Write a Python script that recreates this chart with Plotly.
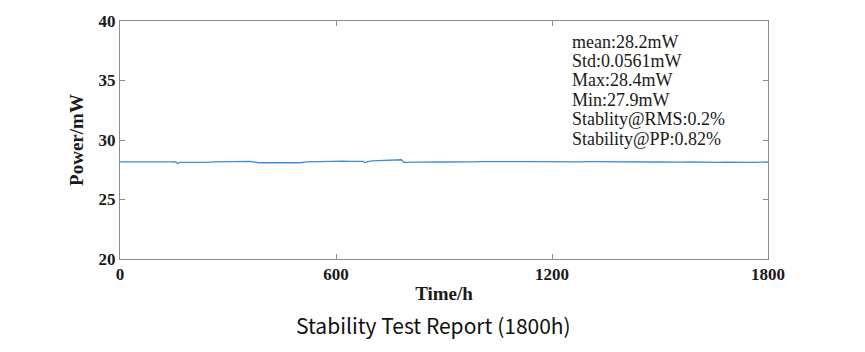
import plotly.graph_objects as go

hours = [0, 20, 40, 60, 80, 100, 120, 140, 155, 160, 165, 180, 200, 220, 240, 260, 280, 300,
         320, 340, 360, 375, 385, 400, 420, 440, 460, 480, 500, 520, 540, 560, 580, 600,
         620, 640, 660, 675, 680, 685, 700, 720, 740, 760, 775, 782, 788, 800, 820, 840,
         860, 880, 900, 920, 940, 960, 980, 1000, 1020, 1040, 1060, 1080, 1100, 1120, 1140,
         1160, 1180, 1200, 1220, 1240, 1260, 1280, 1300, 1320, 1340, 1360, 1380, 1400, 1420,
         1440, 1460, 1480, 1500, 1520, 1540, 1560, 1580, 1600, 1620, 1640, 1660, 1680, 1700,
         1720, 1740, 1760, 1780, 1800]
power = [28.16, 28.18, 28.15, 28.17, 28.16, 28.14, 28.17, 28.16, 28.15, 28.03, 28.12, 28.11,
         28.13, 28.12, 28.12, 28.16, 28.18, 28.19, 28.21, 28.20, 28.21, 28.14, 28.09, 28.10,
         28.11, 28.09, 28.10, 28.11, 28.09, 28.17, 28.19, 28.18, 28.20, 28.21, 28.22, 28.20,
         28.22, 28.21, 28.11, 28.17, 28.24, 28.25, 28.27, 28.29, 28.33, 28.34, 28.12, 28.13,
         28.14, 28.15, 28.14, 28.16, 28.15, 28.17, 28.16, 28.18, 28.17, 28.18, 28.17, 28.18,
         28.19, 28.18, 28.19, 28.18, 28.19, 28.18, 28.19, 28.18, 28.19, 28.17, 28.18, 28.17,
         28.18, 28.17, 28.18, 28.16, 28.17, 28.16, 28.17, 28.15, 28.16, 28.15, 28.16, 28.14,
         28.15, 28.14, 28.15, 28.13, 28.14, 28.13, 28.12, 28.13, 28.12, 28.09, 28.10, 28.12,
         28.14, 28.15]

x_ticks = [0, 600, 1200, 1800]
y_ticks = [20, 25, 30, 35, 40]
stats_lines = ["mean:28.2mW", "Std:0.0561mW", "Max:28.4mW", "Min:27.9mW",
               "Stablity@RMS:0.2%", "Stability@PP:0.82%"]

serif = "Times New Roman, Liberation Serif, serif"
txt = "#1a1a1a"

fig = go.Figure()
fig.add_trace(go.Scatter(x=hours, y=power, mode="lines",
                         line=dict(color="#3d8fd6", width=1.3), showlegend=False))

axis_common = dict(showline=True, linecolor="#8c8c8c", linewidth=1, mirror="ticks",
                   ticks="inside", ticklen=5, tickcolor="#8c8c8c", showgrid=False,
                   zeroline=False,
                   tickfont=dict(family=serif, size=17, color=txt))

annotations = []
for i, line in enumerate(stats_lines):
    annotations.append(dict(text=line, x=1250, y=38.27 - i * 19.6 / 12.0, xref="x", yref="y",
                            xanchor="left", yanchor="middle", showarrow=False,
                            font=dict(family=serif, size=18, color=txt)))
annotations.append(dict(text="Stability Test Report (1800h)",
                        x=(433 - 120) / (865 - 120 - 97), y=-(326 - 259) / (259 - 19),
                        xref="paper", yref="paper", xanchor="center", yanchor="middle",
                        showarrow=False,
                        font=dict(family="Noto Sans CJK SC", size=21, color="#111111")))

fig.update_layout(
    width=865, height=352,
    margin=dict(l=120, r=97, t=19, b=93),
    paper_bgcolor="white", plot_bgcolor="white",
    xaxis=dict(range=[0, 1800], tickvals=x_ticks, ticktext=[f"<b>{v}</b>" for v in x_ticks],
               title=dict(text="<b>Time/h</b>", font=dict(family=serif, size=19, color=txt),
                          standoff=3),
               **axis_common),
    yaxis=dict(range=[20, 40], tickvals=y_ticks, ticktext=[f"<b>{v}</b>" for v in y_ticks],
               title=dict(text="<b>Power/mW</b>", font=dict(family=serif, size=19, color=txt),
                          standoff=9),
               **axis_common),
    annotations=annotations,
)

fig.write_html("out.html")
